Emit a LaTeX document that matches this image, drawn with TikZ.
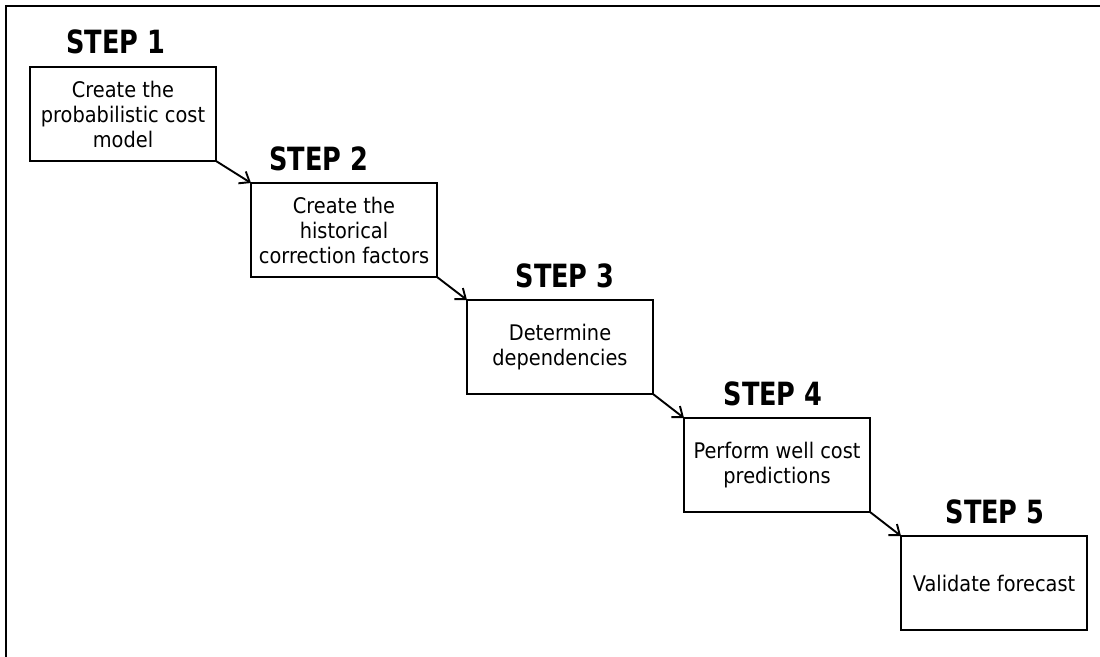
\documentclass[tikz,border=0pt]{standalone}
\usepackage{fontspec}
\setmainfont{DejaVu Sans}[FakeStretch=0.9]
\newfontfamily\stepfont{DejaVu Sans Bold}[FakeStretch=0.8]
\usepackage{tikz}
\usetikzlibrary{arrows.meta}
\tikzset{
  stepbox/.style={draw,line width=2.6pt,minimum width=186pt,minimum height=94pt,
    inner sep=0pt,outer sep=0pt,align=center,font=\fontsize{21.5}{25}\selectfont},
  steplabel/.style={anchor=base,font=\stepfont\fontsize{32}{34}\selectfont},
  steparrow/.style={line width=1.9pt,-{Straight Barb[length=9pt,width=14pt]}}
}
\begin{document}
\begin{tikzpicture}[x=1pt,y=-1pt]
    \useasboundingbox (0,0) rectangle (1100,656);
    % frame
    \draw[line width=2.2pt] (1102,6) -- (6,6) -- (6,658);
    % steps
    \foreach \Num/\X/\Y/\LX/\LY/\Text in {
      1/123/114/116/53/{Create the\\probabilistic cost\\model},
      2/344/230/319/170/{Create the\\historical\\correction factors},
      3/560/347/565/287/{Determine\\dependencies},
      4/777/465/773/405/{Perform well cost\\predictions},
      5/994/583/995/523/{Validate forecast}}
    {
    \node[stepbox] (s\Num) at (\X,\Y) {\Text};
    \node[steplabel] (l\Num) at (\LX,\LY) {STEP \Num};
    }
    % arrows
    \foreach \From/\To in {1/2,2/3,3/4,4/5}
    \draw[steparrow] (s\From.south east) -- (s\To.north west);
\end{tikzpicture}
\end{document}
